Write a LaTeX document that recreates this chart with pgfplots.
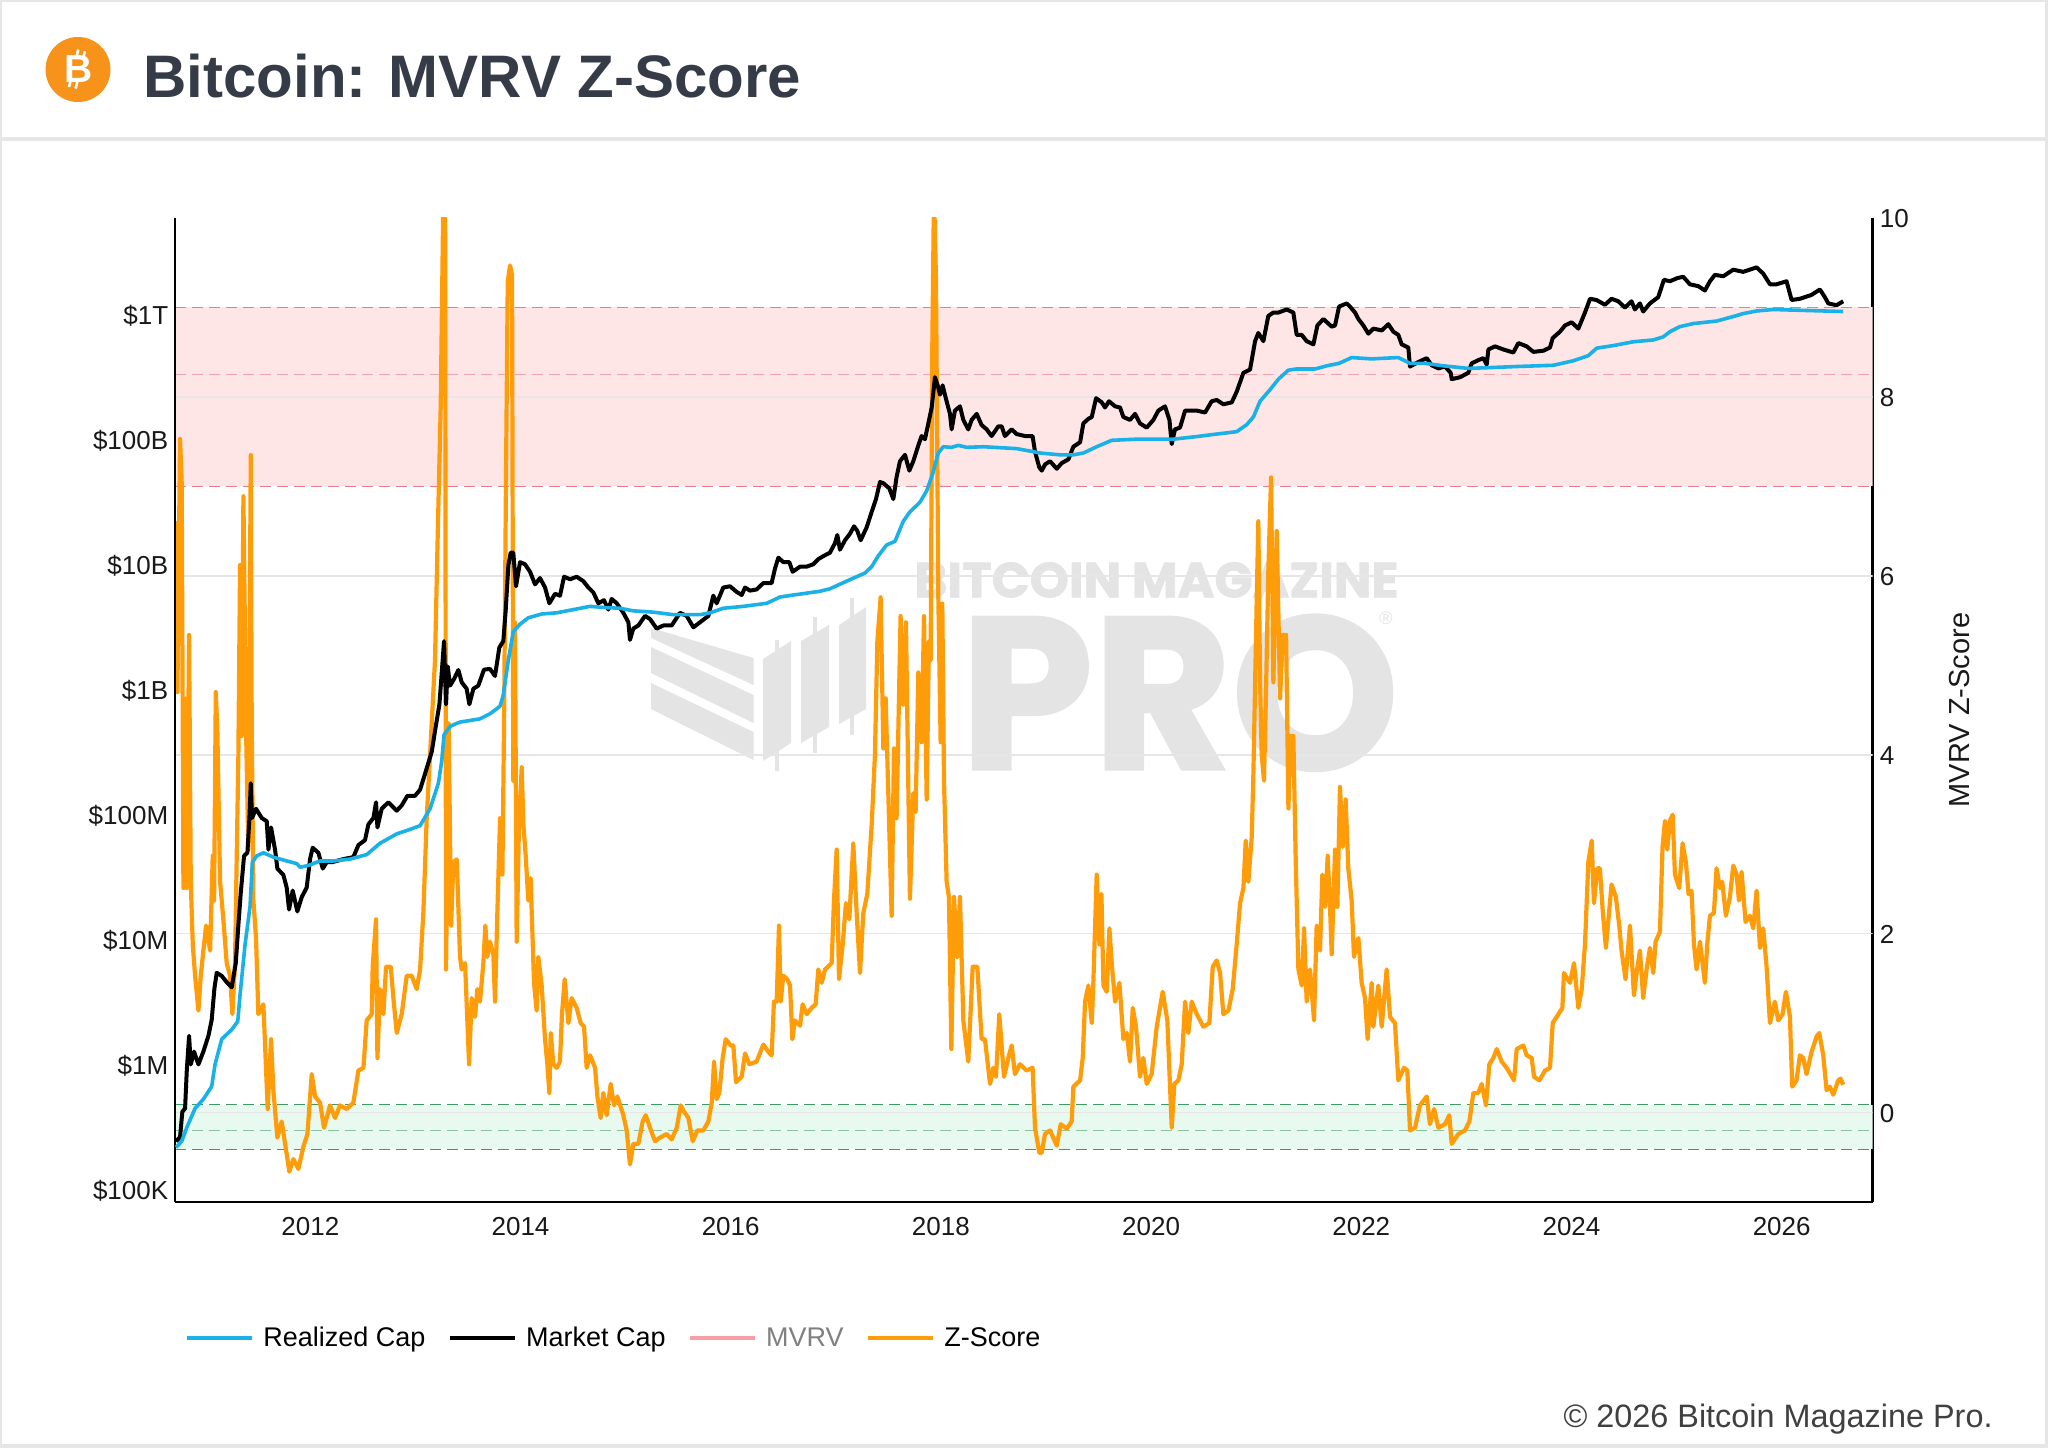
\documentclass[border=0pt]{standalone}
\usepackage{pgfplots}
\pgfplotsset{compat=1.18}
\usepackage{fontspec}
\setmainfont{Liberation Sans}
\newfontfamily\wmfont[FakeBold=1.5]{Poppins Bold}
\definecolor{zorange}{HTML}{FF9C0A}
\definecolor{rcblue}{HTML}{1AB0E8}
\definecolor{mvrvpink}{HTML}{F79EA6}
\definecolor{titlec}{HTML}{353C47}
\definecolor{frame}{HTML}{E6E6E6}
\definecolor{wm}{HTML}{E4E4E4}
\definecolor{gridc}{HTML}{E6E6E6}
\definecolor{redband}{HTML}{FEE6E6}
\definecolor{greenband}{HTML}{E8F9F0}
\definecolor{reddash}{HTML}{E37E8B}
\definecolor{reddash2}{HTML}{EFA4AE}
\definecolor{greendash}{HTML}{3E9A62}
\definecolor{greendash2}{HTML}{8CC4A2}
\definecolor{btc}{HTML}{F7931A}
\newcommand{\tickfont}{\fontsize{13}{15}\selectfont}
\begin{document}
\begin{tikzpicture}[x=1pt,y=1pt]
\path[use as bounding box] (0,0) rectangle (1024,724);
\fill[white] (0,0) rectangle (1024,724);
% page frame
\begin{scope}[x=0.5pt,y=-0.5pt,shift={(0,-1448)}]
\fill[frame] (0,0) rectangle (2048,2.5);
\fill[frame] (0,137) rectangle (2048,141);
\fill[frame] (0,1444) rectangle (2048,1448);
\fill[frame] (0,0) rectangle (2,1448);
\fill[frame] (2045,0) rectangle (2048,1448);
% watermark logo
\fill[wm] (651,628) -- (753.5,658) -- (753.5,685) -- (651,638) -- cycle;
\fill[wm] (651,647) -- (753.5,695) -- (753.5,723) -- (651,673) -- cycle;
\fill[wm] (651,683) -- (753.5,732) -- (753.5,760) -- (651,709) -- cycle;
\fill[wm] (763,659) -- (791,641) -- (791,743) -- (763,761) -- cycle;
\fill[wm] (775,640) rectangle (779,771);
\fill[wm] (801,641) -- (829,625) -- (829,727) -- (801,743) -- cycle;
\fill[wm] (813,617) rectangle (817,753);
\fill[wm] (839,625) -- (866,607) -- (866,709) -- (839,724) -- cycle;
\fill[wm] (850,598) rectangle (854,735);
\end{scope}
% bitcoin badge
\fill[btc] (39,689.25) circle (16.25);
\begin{scope}[shift={(39.3,689.25)},rotate=-14]
\node[white,inner sep=0] at (0,0) {\fontsize{19.5}{20}\selectfont\bfseries B};
\fill[white] (-3.2,6.2) rectangle (-1.9,9.6) (0.2,6.2) rectangle (1.5,9.6) (-3.2,-9.6) rectangle (-1.9,-6.2) (0.2,-9.6) rectangle (1.5,-6.2);
\end{scope}
\node[wm,anchor=south west,inner sep=0] at (457,425) {\resizebox{242pt}{17.5pt}{\wmfont BITCOIN MAGAZINE}};
\node[wm,anchor=south west,inner sep=0] at (480,338.5) {\resizebox{219pt}{77pt}{\wmfont PRO}};
\node[wm] at (693,415) {\fontsize{9}{9}\selectfont ®};
% title
\node[titlec,anchor=west,inner sep=0] at (71.5,686) {\fontsize{30}{32}\selectfont\bfseries Bitcoin: MVRV Z-Score};
% z-score axis (right)
\begin{axis}[
  at={(87.5pt,123pt)},anchor=south west,
  scale only axis,width=848.75pt,height=492pt,
  xmin=2010.720,xmax=2026.872,ymin=-1,ymax=10,
  axis x line=none,axis y line*=right,
  axis line style={black,line width=1.1pt,-},
  major tick length=0pt,
  ytick={0,2,4,6,8,10},yticklabels={0,2,4,6,8,10},
  yticklabel style={font=\tickfont,inner sep=0pt,xshift=3.5pt,yshift=-0.5pt,color=black!90},
  clip=true,
]
\fill[redband] (axis cs:2010.72,7) rectangle (axis cs:2026.872,9);
\fill[greenband] (axis cs:2010.72,-0.41) rectangle (axis cs:2026.872,0.09);
\pgfplotsinvokeforeach{0,2,4,6,8}{\draw[gridc,line width=0.8pt] (axis cs:2010.72,#1) -- (axis cs:2026.872,#1);}
\draw[reddash,line width=0.65pt,dash pattern=on 5.5pt off 3pt] (axis cs:2010.72,9) -- (axis cs:2026.872,9);
\draw[reddash2,line width=0.55pt,dash pattern=on 5.5pt off 3pt] (axis cs:2010.72,8.255) -- (axis cs:2026.872,8.255);
\draw[reddash,line width=0.65pt,dash pattern=on 5.5pt off 3pt] (axis cs:2010.72,7) -- (axis cs:2026.872,7);
\draw[greendash,line width=0.55pt,dash pattern=on 5.5pt off 3pt] (axis cs:2010.72,0.09) -- (axis cs:2026.872,0.09);
\draw[greendash2,line width=0.55pt,dash pattern=on 5.5pt off 3pt] (axis cs:2010.72,-0.205) -- (axis cs:2026.872,-0.205);
\draw[greendash,line width=0.55pt,dash pattern=on 5.5pt off 3pt] (axis cs:2010.72,-0.41) -- (axis cs:2026.872,-0.41);
\addplot[zorange,line width=2.1pt,line join=round,no marks] coordinates {
(2010.730,6.61)(2010.743,4.70)(2010.768,7.53)(2010.784,7.03)(2010.800,2.51)(2010.816,4.63)(2010.832,2.51)(2010.854,5.34)(2010.870,2.58)(2010.889,1.88)(2010.911,1.53)(2010.943,1.14)(2010.965,1.53)(2010.990,1.81)
(2011.016,2.09)(2011.054,1.81)(2011.079,2.87)(2011.092,2.37)(2011.108,4.70)(2011.123,4.28)(2011.149,2.58)(2011.180,2.16)(2011.212,1.67)(2011.244,1.53)(2011.266,1.10)(2011.291,1.67)(2011.323,4.00)(2011.339,6.12)(2011.355,4.21)(2011.371,6.89)(2011.396,4.28)(2011.418,2.94)(2011.441,7.35)(2011.450,4.35)(2011.466,2.37)(2011.491,1.95)(2011.513,1.10)(2011.561,1.21)(2011.602,0.04)(2011.634,0.82)(2011.656,0.25)(2011.694,-0.28)(2011.735,-0.10)(2011.808,-0.66)(2011.846,-0.52)(2011.894,-0.63)(2011.942,-0.38)(2011.980,-0.24)
(2012.021,0.43)(2012.053,0.18)(2012.100,0.11)(2012.138,-0.17)(2012.195,0.08)(2012.243,-0.06)(2012.290,0.08)(2012.354,0.04)(2012.417,0.11)(2012.465,0.47)(2012.513,0.50)(2012.544,1.03)(2012.592,1.10)(2012.601,1.63)(2012.633,2.16)(2012.646,0.61)(2012.671,1.38)(2012.703,1.10)(2012.728,1.63)(2012.773,1.63)(2012.798,1.28)(2012.830,0.89)(2012.877,1.10)(2012.925,1.53)(2012.972,1.53)
(2013.020,1.38)(2013.052,1.60)(2013.083,2.23)(2013.115,3.29)(2013.147,4.00)(2013.194,5.06)(2013.220,6.47)(2013.248,7.88)(2013.274,10.3)(2013.290,10.3)(2013.299,1.60)(2013.324,4.35)(2013.347,2.09)(2013.369,2.80)(2013.401,2.83)(2013.432,1.74)
(2013.448,1.60)(2013.480,1.67)(2013.518,0.54)(2013.543,1.28)(2013.575,1.07)(2013.597,1.38)(2013.622,1.24)(2013.654,1.67)(2013.673,2.09)(2013.692,1.74)(2013.717,1.91)(2013.749,1.77)(2013.765,1.24)(2013.787,2.23)(2013.813,3.29)(2013.835,2.66)(2013.851,4.35)(2013.870,7.18)(2013.886,9.29)(2013.908,9.47)(2013.927,9.36)(2013.939,3.71)(2013.955,5.48)(2013.971,1.91)(2013.993,3.22)
(2014.019,3.86)(2014.035,3.22)(2014.057,2.87)(2014.082,2.37)(2014.104,2.62)(2014.136,1.45)(2014.161,1.14)(2014.177,1.74)(2014.209,1.42)(2014.241,0.82)(2014.263,0.54)(2014.282,0.22)(2014.295,0.89)(2014.320,0.54)(2014.352,0.50)(2014.383,0.57)(2014.402,1.10)(2014.428,1.49)(2014.463,1.00)(2014.494,1.28)(2014.542,1.17)(2014.580,1.00)(2014.612,0.96)(2014.637,0.50)(2014.669,0.64)(2014.717,0.50)(2014.739,0.18)(2014.770,-0.06)(2014.796,0.22)(2014.827,-0.03)(2014.866,0.32)(2014.897,0.08)(2014.929,0.18)(2014.986,-0.03)
(2015.018,-0.20)(2015.049,-0.58)(2015.081,-0.35)(2015.129,-0.35)(2015.170,-0.10)(2015.199,-0.03)(2015.240,-0.17)(2015.287,-0.32)(2015.335,-0.28)(2015.398,-0.24)(2015.446,-0.30)(2015.494,-0.17)(2015.532,0.08)(2015.563,0.01)(2015.605,-0.06)(2015.646,-0.32)(2015.690,-0.20)(2015.747,-0.20)(2015.795,-0.10)(2015.827,0.11)(2015.849,0.57)(2015.874,0.15)(2015.899,0.22)(2015.931,0.61)(2015.960,0.82)
(2016.007,0.75)(2016.033,0.75)(2016.058,0.34)(2016.112,0.40)(2016.144,0.66)(2016.185,0.54)(2016.254,0.57)(2016.318,0.76)(2016.365,0.68)(2016.397,0.64)(2016.419,1.24)(2016.445,1.24)(2016.467,2.09)(2016.483,1.24)(2016.508,1.53)(2016.546,1.49)(2016.572,1.42)(2016.594,0.82)(2016.619,1.03)(2016.667,0.97)(2016.692,1.21)(2016.730,1.10)(2016.778,1.17)(2016.816,1.21)(2016.841,1.60)(2016.873,1.45)(2016.905,1.60)(2016.968,1.67)(2016.990,2.37)
(2017.016,2.94)(2017.038,1.49)(2017.073,1.88)(2017.104,2.34)(2017.136,2.16)(2017.174,3.01)(2017.206,2.23)(2017.238,1.56)(2017.269,2.23)(2017.307,2.44)(2017.349,3.22)(2017.380,4.00)(2017.403,5.27)(2017.434,5.76)(2017.460,4.07)(2017.482,4.63)(2017.507,3.57)(2017.539,2.20)(2017.561,4.07)(2017.586,3.29)(2017.624,5.55)(2017.650,4.56)(2017.675,5.48)(2017.713,2.39)(2017.745,3.57)(2017.767,3.36)(2017.793,4.92)(2017.824,4.14)(2017.847,5.55)(2017.872,3.50)(2017.894,5.27)(2017.910,5.06)(2017.926,8.59)(2017.942,10.3)(2017.961,9.29)(2017.983,5.76)
(2018.005,4.14)(2018.021,5.69)(2018.037,3.71)(2018.062,2.58)(2018.084,2.41)(2018.107,0.71)(2018.132,2.41)(2018.164,1.74)(2018.189,2.41)(2018.221,1.03)(2018.268,0.57)(2018.310,1.63)(2018.354,1.63)(2018.395,0.82)(2018.427,0.82)(2018.475,0.32)(2018.506,0.50)(2018.532,0.40)(2018.563,1.10)(2018.608,0.40)(2018.649,0.61)(2018.681,0.75)(2018.712,0.43)(2018.760,0.54)(2018.823,0.47)(2018.880,0.50)(2018.903,-0.17)(2018.944,-0.45)(2018.967,-0.45)(2018.998,-0.24)
(2019.046,-0.20)(2019.110,-0.37)(2019.148,-0.13)(2019.205,-0.18)(2019.252,-0.10)(2019.268,0.29)(2019.332,0.36)(2019.357,0.61)(2019.379,1.24)(2019.411,1.42)(2019.443,1.00)(2019.458,1.45)(2019.490,2.66)(2019.516,1.88)(2019.535,2.44)(2019.554,1.42)(2019.585,1.35)(2019.611,2.06)(2019.633,1.67)(2019.665,1.24)(2019.706,1.45)(2019.744,0.82)(2019.776,0.89)(2019.807,0.57)(2019.833,1.17)(2019.864,0.96)(2019.902,0.40)(2019.934,0.61)(2019.966,0.32)
(2020.013,0.43)(2020.061,0.96)(2020.118,1.35)(2020.162,1.03)(2020.204,-0.17)(2020.229,0.32)(2020.267,0.36)(2020.299,0.54)(2020.331,1.24)(2020.362,0.89)(2020.394,1.24)(2020.442,1.10)(2020.505,0.96)(2020.562,1.00)(2020.594,1.63)(2020.632,1.70)(2020.664,1.56)(2020.695,1.10)(2020.743,1.14)(2020.784,1.38)(2020.822,1.88)(2020.854,2.34)(2020.886,2.51)(2020.908,3.04)(2020.933,2.58)(2020.965,3.08)(2020.981,3.79)
(2021.013,5.76)(2021.028,6.61)(2021.044,4.84)(2021.060,4.00)(2021.082,3.71)(2021.101,4.70)(2021.123,6.05)(2021.149,7.10)(2021.171,4.81)(2021.203,6.50)(2021.235,4.63)(2021.260,5.34)(2021.292,5.34)(2021.314,3.40)(2021.336,4.21)(2021.361,4.21)(2021.384,2.80)(2021.409,1.60)(2021.441,1.42)(2021.463,2.06)(2021.488,1.24)(2021.520,1.60)(2021.558,1.03)(2021.583,2.09)(2021.615,1.81)(2021.637,2.66)(2021.663,2.30)(2021.688,2.87)(2021.710,2.30)
(2021.726,1.77)(2021.758,2.94)(2021.780,2.30)(2021.805,3.64)(2021.831,2.97)(2021.859,3.50)(2021.884,2.73)(2021.916,2.37)(2021.938,1.74)(2021.980,1.95)
(2022.011,1.45)(2022.043,1.28)(2022.068,0.82)(2022.106,1.45)(2022.122,0.96)(2022.170,1.42)(2022.202,0.96)(2022.249,1.60)(2022.281,1.07)(2022.328,1.00)(2022.360,0.36)(2022.414,0.50)(2022.446,0.47)(2022.471,-0.20)(2022.519,-0.17)(2022.566,0.08)(2022.630,0.18)(2022.661,-0.13)(2022.700,0.04)(2022.741,-0.17)(2022.804,-0.13)(2022.845,-0.03)(2022.868,-0.35)(2022.931,-0.24)(2022.994,-0.20)
(2023.036,-0.10)(2023.074,0.22)(2023.121,0.22)(2023.153,0.32)(2023.194,0.08)(2023.226,0.54)(2023.264,0.61)(2023.296,0.71)(2023.343,0.57)(2023.391,0.50)(2023.461,0.36)(2023.486,0.71)(2023.550,0.75)(2023.581,0.64)(2023.629,0.61)(2023.651,0.40)(2023.702,0.36)(2023.756,0.47)(2023.803,0.50)(2023.829,1.00)(2023.883,1.10)(2023.921,1.17)(2023.936,1.56)(2023.993,1.45)
(2024.032,1.67)(2024.073,1.17)(2024.105,1.38)(2024.136,1.88)(2024.168,2.80)(2024.200,3.04)(2024.221,2.34)(2024.253,2.73)(2024.278,2.73)(2024.304,2.27)(2024.335,1.84)(2024.389,2.55)(2024.430,2.41)(2024.462,2.09)(2024.484,1.81)(2024.522,1.49)(2024.564,2.09)(2024.602,1.31)(2024.627,1.56)(2024.659,1.81)(2024.690,1.28)(2024.722,1.60)(2024.754,1.84)(2024.786,1.56)(2024.808,1.91)(2024.849,2.02)(2024.874,2.97)(2024.897,3.26)(2024.919,2.94)(2024.944,3.26)(2024.970,3.33)(2024.992,2.66)
(2025.033,2.51)(2025.065,3.01)(2025.096,2.80)(2025.122,2.44)(2025.150,2.48)(2025.173,1.88)(2025.198,1.60)(2025.230,1.91)(2025.277,1.45)(2025.299,1.88)(2025.325,2.20)(2025.363,2.23)(2025.388,2.73)(2025.420,2.51)(2025.442,2.58)(2025.477,2.20)(2025.515,2.41)(2025.547,2.76)(2025.579,2.66)(2025.601,2.37)(2025.626,2.69)(2025.664,2.13)(2025.705,2.20)(2025.737,2.06)(2025.769,2.48)(2025.801,1.84)(2025.832,2.06)(2025.864,1.63)(2025.896,1.00)(2025.943,1.24)(2025.975,1.03)
(2026.016,1.10)(2026.048,1.35)(2026.086,1.07)(2026.108,0.29)(2026.149,0.36)(2026.181,0.64)(2026.213,0.61)(2026.244,0.43)(2026.292,0.68)(2026.340,0.85)(2026.365,0.89)(2026.403,0.64)(2026.435,0.25)(2026.466,0.29)(2026.498,0.20)(2026.546,0.36)(2026.568,0.38)(2026.593,0.31)
};
\end{axis}
% capitalisation axis (left, log)
\begin{axis}[
  at={(87.5pt,123pt)},anchor=south west,
  scale only axis,width=848.75pt,height=492pt,
  xmin=2010.720,xmax=2026.872,
  ymode=log,log basis y=10,ymin=80200,ymax=5.93e12,
  axis x line*=bottom,axis y line*=left,
  axis line style={black,line width=1.1pt,-},
  major tick length=0pt,minor tick length=0pt,
  xtick={2012,2014,2016,2018,2020,2022,2024,2026},
  xticklabels={2012,2014,2016,2018,2020,2022,2024,2026},
  xticklabel style={font=\tickfont,inner sep=0pt,yshift=-7.5pt,xshift=0.4pt,color=black!90},
  ytick={1e5,1e6,1e7,1e8,1e9,1e10,1e11,1e12},
  yticklabels={\$100K,\$1M,\$10M,\$100M,\$1B,\$10B,\$100B,\$1T},
  yticklabel style={font=\tickfont,inner sep=0pt,xshift=-3.2pt,yshift=-0.5pt,color=black!90},
  legend image code/.code={\draw[#1] (0pt,0pt) -- (32.5pt,0pt);},
  legend style={at={(0.0055,-0.1385)},anchor=west,draw=none,fill=none,legend columns=4,
    font=\fontsize{13.5}{15}\selectfont,inner sep=0pt,
    /tikz/every odd column/.append style={column sep=2.6pt},
    /tikz/every even column/.append style={column sep=9pt}},
]
\addlegendimage{rcblue,line width=2.2pt}\addlegendentry{Realized Cap}
\addlegendimage{black,line width=2.2pt}\addlegendentry{Market Cap}
\addlegendimage{mvrvpink,line width=2.2pt}\addlegendentry{\textcolor{black!50}{MVRV}}
\addlegendimage{zorange,line width=2.2pt}\addlegendentry{Z-Score}
\addplot[black,line width=2pt,line join=round,no marks,forget plot] coordinates {
(2010.730,2.45e5)(2010.768,2.65e5)(2010.790,4.23e5)(2010.816,4.49e5)(2010.832,9.0e5)(2010.854,1.71e6)(2010.870,1.01e6)(2010.901,1.28e6)(2010.943,1.01e6)(2010.990,1.28e6)
(2011.038,1.71e6)(2011.069,2.29e6)(2011.095,4.08e6)(2011.117,5.46e6)(2011.165,5.15e6)(2011.212,4.59e6)(2011.260,4.18e6)(2011.298,6.50e6)(2011.323,1.31e7)(2011.345,2.34e7)(2011.377,4.70e7)(2011.409,4.98e7)(2011.428,9.44e7)(2011.441,1.79e8)(2011.453,9.44e7)(2011.491,1.12e8)(2011.545,9.44e7)(2011.593,8.89e7)(2011.609,5.27e7)(2011.634,7.93e7)(2011.672,5.27e7)(2011.694,3.72e7)(2011.751,3.31e7)(2011.783,2.62e7)(2011.805,1.75e7)(2011.840,2.48e7)(2011.884,1.69e7)(2011.926,2.20e7)(2011.973,2.62e7)
(2012.005,4.43e7)(2012.030,5.46e7)(2012.084,4.98e7)(2012.126,3.72e7)(2012.163,4.18e7)(2012.211,4.18e7)(2012.259,4.28e7)(2012.322,4.43e7)(2012.417,4.59e7)(2012.465,5.73e7)(2012.528,6.28e7)(2012.560,8.39e7)(2012.608,9.44e7)(2012.633,1.26e8)(2012.646,7.93e7)(2012.687,1.12e8)(2012.750,1.26e8)(2012.830,1.08e8)(2012.877,1.19e8)(2012.931,1.42e8)
(2013.004,1.42e8)(2013.052,1.59e8)(2013.099,2.13e8)(2013.163,3.20e8)(2013.201,5.09e8)(2013.236,7.66e8)(2013.258,1.37e9)(2013.280,2.45e9)(2013.299,7.66e8)(2013.315,1.54e9)(2013.337,1.08e9)(2013.375,1.22e9)(2013.416,1.44e9)
(2013.448,1.15e9)(2013.495,1.02e9)(2013.521,7.66e8)(2013.559,1.02e9)(2013.606,1.08e9)(2013.660,1.45e9)(2013.717,1.47e9)(2013.765,1.29e9)(2013.806,2.18e9)(2013.844,2.45e9)(2013.867,4.38e9)(2013.892,9.9e9)(2013.914,1.25e10)(2013.939,1.25e10)(2013.965,6.73e9)
(2014.003,1.05e10)(2014.050,1.01e10)(2014.098,8.79e9)(2014.146,6.97e9)(2014.193,7.83e9)(2014.241,6.58e9)(2014.282,4.92e9)(2014.336,5.86e9)(2014.383,5.66e9)(2014.422,8.02e9)(2014.479,7.66e9)(2014.542,8.02e9)(2014.605,7.40e9)(2014.653,6.58e9)(2014.701,6.00e9)(2014.748,4.92e9)(2014.802,5.21e9)(2014.843,4.38e9)(2014.875,5.33e9)(2014.923,4.92e9)(2014.986,4.13e9)
(2015.034,3.47e9)(2015.049,2.51e9)(2015.081,3.09e9)(2015.129,3.27e9)(2015.192,3.90e9)(2015.240,3.68e9)(2015.303,3.09e9)(2015.367,3.27e9)(2015.446,3.27e9)(2015.525,4.13e9)(2015.589,3.90e9)(2015.652,3.16e9)(2015.716,3.47e9)(2015.795,3.90e9)(2015.842,5.66e9)(2015.874,4.92e9)(2015.937,6.58e9)
(2016.001,6.73e9)(2016.064,6.07e9)(2016.112,5.73e9)(2016.144,6.58e9)(2016.191,6.21e9)(2016.254,6.35e9)(2016.318,7.14e9)(2016.397,7.14e9)(2016.429,9.33e9)(2016.461,1.14e10)(2016.508,1.05e10)(2016.565,1.05e10)(2016.597,8.79e9)(2016.667,9.66e9)(2016.730,9.66e9)(2016.794,1.01e10)(2016.841,1.11e10)(2016.895,1.18e10)(2016.952,1.25e10)
(2017.000,1.49e10)(2017.022,1.73e10)(2017.047,1.32e10)(2017.095,1.57e10)(2017.142,1.77e10)(2017.181,2.03e10)(2017.212,1.87e10)(2017.244,1.57e10)(2017.301,1.99e10)(2017.349,2.65e10)(2017.390,3.35e10)(2017.428,4.59e10)(2017.460,4.49e10)(2017.517,4.08e10)(2017.555,3.35e10)(2017.586,5.04e10)(2017.618,6.73e10)(2017.666,7.57e10)(2017.707,5.66e10)(2017.745,6.73e10)(2017.793,9.02e10)(2017.824,1.07e11)(2017.856,1.01e11)(2017.888,1.35e11)(2017.920,1.81e11)(2017.951,3.16e11)(2017.977,2.72e11)(2017.999,2.29e11)
(2018.024,2.72e11)(2018.062,2.03e11)(2018.094,1.61e11)(2018.110,1.21e11)(2018.141,1.71e11)(2018.189,1.85e11)(2018.221,1.44e11)(2018.268,1.21e11)(2018.300,1.44e11)(2018.348,1.61e11)(2018.395,1.31e11)(2018.443,1.21e11)(2018.490,1.07e11)(2018.554,1.28e11)(2018.586,1.28e11)(2018.617,1.07e11)(2018.681,1.21e11)(2018.728,1.11e11)(2018.808,1.07e11)(2018.880,1.07e11)(2018.903,8.02e10)(2018.944,6.0e10)(2018.967,5.66e10)(2018.999,6.35e10)
(2019.046,6.73e10)(2019.110,5.86e10)(2019.157,6.50e10)(2019.221,6.97e10)(2019.268,8.79e10)(2019.332,9.55e10)(2019.363,1.35e11)(2019.411,1.47e11)(2019.443,1.52e11)(2019.484,2.15e11)(2019.538,1.99e11)(2019.569,1.81e11)(2019.607,2.03e11)(2019.665,1.85e11)(2019.712,1.81e11)(2019.744,1.52e11)(2019.807,1.44e11)(2019.855,1.61e11)(2019.902,1.35e11)(2019.966,1.25e11)
(2020.029,1.44e11)(2020.077,1.71e11)(2020.140,1.85e11)(2020.182,1.44e11)(2020.204,9.23e10)(2020.235,1.21e11)(2020.283,1.25e11)(2020.331,1.71e11)(2020.394,1.71e11)(2020.442,1.71e11)(2020.521,1.65e11)(2020.584,2.03e11)(2020.632,2.08e11)(2020.695,1.92e11)(2020.775,1.99e11)(2020.822,2.42e11)(2020.886,3.43e11)(2020.949,3.64e11)(2020.997,6.14e11)
(2021.028,7.14e11)(2021.076,6.14e11)(2021.123,9.77e11)(2021.171,1.04e12)(2021.219,1.04e12)(2021.298,1.10e12)(2021.361,1.04e12)(2021.393,6.89e11)(2021.441,6.89e11)(2021.488,6.14e11)(2021.552,5.79e11)(2021.590,8.2e11)(2021.647,9.23e11)(2021.726,8.02e11)(2021.758,8.2e11)(2021.796,1.16e12)(2021.837,1.20e12)(2021.869,1.23e12)(2021.900,1.16e12)(2021.948,1.04e12)(2021.980,9.23e11)
(2022.027,8.2e11)(2022.075,7.05e11)(2022.122,7.74e11)(2022.202,7.48e11)(2022.265,8.39e11)(2022.313,7.31e11)(2022.360,6.89e11)(2022.392,5.79e11)(2022.455,5.46e11)(2022.471,3.85e11)(2022.550,4.18e11)(2022.630,4.49e11)(2022.677,3.94e11)(2022.741,3.72e11)(2022.804,3.85e11)(2022.858,3.43e11)(2022.868,3.05e11)(2022.947,3.16e11)
(2023.026,3.43e11)(2023.058,4.08e11)(2023.121,4.33e11)(2023.169,4.49e11)(2023.201,3.99e11)(2023.217,5.27e11)(2023.280,5.58e11)(2023.359,5.27e11)(2023.454,4.98e11)(2023.502,5.93e11)(2023.581,5.58e11)(2023.645,5.04e11)(2023.740,5.15e11)(2023.803,5.46e11)(2023.829,6.50e11)(2023.898,7.31e11)(2023.946,8.2e11)
(2024.009,8.69e11)(2024.073,7.74e11)(2024.136,1.04e12)(2024.184,1.34e12)(2024.246,1.31e12)(2024.326,1.20e12)(2024.389,1.34e12)(2024.453,1.28e12)(2024.516,1.14e12)(2024.579,1.28e12)(2024.611,1.10e12)(2024.659,1.23e12)(2024.690,1.06e12)(2024.754,1.23e12)(2024.833,1.38e12)(2024.887,1.90e12)(2024.944,1.85e12)
(2025.014,1.96e12)(2025.071,2.01e12)(2025.134,1.75e12)(2025.214,1.69e12)(2025.277,1.56e12)(2025.325,1.85e12)(2025.372,2.08e12)(2025.452,2.03e12)(2025.547,2.29e12)(2025.642,2.20e12)(2025.769,2.39e12)(2025.832,2.13e12)(2025.896,1.75e12)(2025.959,1.75e12)
(2026.054,1.85e12)(2026.102,1.31e12)(2026.181,1.34e12)(2026.292,1.44e12)(2026.371,1.59e12)(2026.419,1.38e12)(2026.451,1.23e12)(2026.530,1.19e12)(2026.593,1.28e12)
};
\addplot[rcblue,line width=1.8pt,line join=round,no marks,forget plot] coordinates {
(2010.730,2.19e5)(2010.784,2.45e5)(2010.832,3.16e5)(2010.911,4.49e5)(2010.990,5.33e5)
(2011.069,6.73e5)(2011.101,1.01e6)(2011.165,1.61e6)(2011.260,1.92e6)(2011.317,2.23e6)(2011.339,3.64e6)(2011.387,9.23e6)(2011.434,1.85e7)(2011.456,4.18e7)(2011.498,4.70e7)(2011.561,4.98e7)(2011.656,4.59e7)(2011.783,4.28e7)(2011.878,4.08e7)(2011.910,3.81e7)(2011.989,3.94e7)
(2012.100,4.28e7)(2012.227,4.28e7)(2012.386,4.43e7)(2012.544,4.81e7)(2012.671,5.93e7)(2012.830,7.05e7)(2012.957,7.66e7)
(2013.052,8.20e7)(2013.147,1.12e8)(2013.226,1.79e8)(2013.258,2.69e8)(2013.280,4.38e8)(2013.337,5.09e8)(2013.401,5.40e8)(2013.432,5.52e8)(2013.622,5.86e8)(2013.717,6.43e8)(2013.813,7.40e8)(2013.844,9.12e8)(2013.892,1.73e9)(2013.939,2.92e9)
(2014.003,3.35e9)(2014.082,3.77e9)(2014.209,4.04e9)(2014.352,4.13e9)(2014.510,4.38e9)(2014.669,4.65e9)(2014.827,4.54e9)(2014.954,4.49e9)
(2015.081,4.28e9)(2015.272,4.18e9)(2015.462,3.99e9)(2015.716,3.99e9)(2015.811,4.13e9)(2015.937,4.49e9)
(2016.128,4.65e9)(2016.350,4.92e9)(2016.476,5.52e9)(2016.603,5.73e9)(2016.857,6.14e9)(2016.952,6.43e9)
(2017.111,7.40e9)(2017.285,8.59e9)(2017.349,9.66e9)(2017.412,1.18e10)(2017.491,1.44e10)(2017.571,1.54e10)(2017.650,2.23e10)(2017.713,2.65e10)(2017.808,3.16e10)(2017.872,3.90e10)(2017.929,5.33e10)(2017.983,7.83e10)
(2018.030,8.79e10)(2018.110,8.69e10)(2018.173,9.02e10)(2018.253,8.69e10)(2018.411,8.79e10)(2018.728,8.49e10)(2018.887,8.02e10)(2018.951,7.83e10)
(2019.141,7.57e10)(2019.268,7.57e10)(2019.363,7.83e10)(2019.490,8.79e10)(2019.633,9.89e10)(2019.871,1.01e11)
(2020.045,1.01e11)(2020.220,1.01e11)(2020.442,1.06e11)(2020.632,1.11e11)(2020.822,1.16e11)(2020.917,1.32e11)(2020.981,1.52e11)
(2021.044,2.03e11)(2021.139,2.51e11)(2021.219,3.05e11)(2021.314,3.60e11)(2021.393,3.68e11)(2021.568,3.68e11)(2021.679,3.90e11)(2021.796,4.08e11)(2021.916,4.54e11)
(2022.106,4.43e11)(2022.360,4.54e11)(2022.471,4.08e11)(2022.614,4.08e11)(2022.788,3.90e11)
(2023.026,3.72e11)(2023.217,3.77e11)(2023.486,3.85e11)(2023.835,3.94e11)
(2024.025,4.28e11)(2024.168,4.70e11)(2024.247,5.40e11)(2024.406,5.66e11)(2024.595,6.07e11)(2024.786,6.28e11)(2024.881,6.65e11)(2024.944,7.31e11)
(2025.039,8.02e11)(2025.166,8.49e11)(2025.388,8.89e11)(2025.547,9.66e11)(2025.642,1.02e12)(2025.769,1.07e12)(2025.927,1.10e12)
(2026.244,1.08e12)(2026.593,1.06e12)
};
\end{axis}
% right axis title and copyright
\node[rotate=90,inner sep=0,color=black!90] at (979.5,369) {\fontsize{14.5}{16}\selectfont MVRV Z-Score};
\node[anchor=east,inner sep=0,color=black!75] at (996.5,14.5) {\fontsize{16.2}{18}\selectfont © 2026 Bitcoin Magazine Pro.};
\end{tikzpicture}
\end{document}
